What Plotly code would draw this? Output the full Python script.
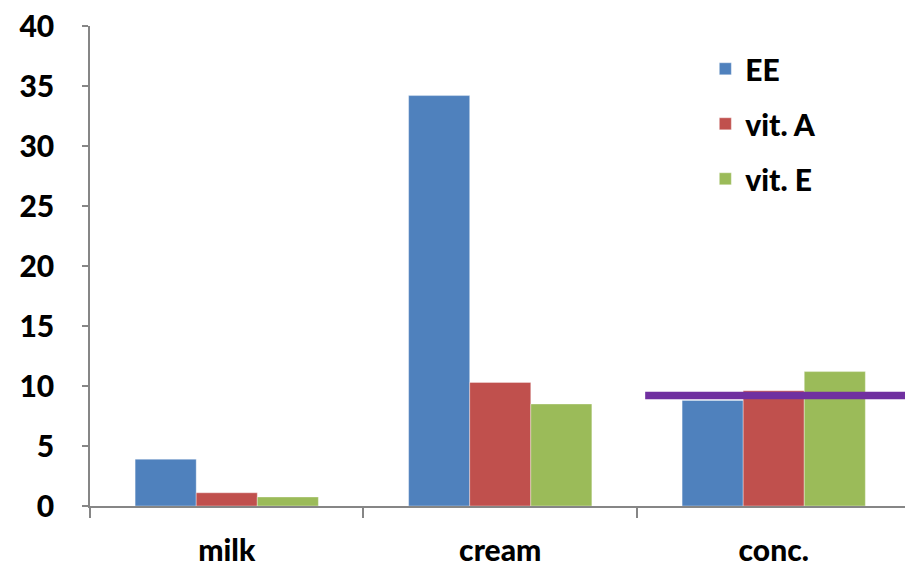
import plotly.graph_objects as go

# Feed samples and their component levels
categories = ["milk", "cream", "conc."]
ee_values = [3.9, 34.2, 8.8]
vit_a_values = [1.1, 10.3, 9.6]
vit_e_values = [0.75, 8.5, 11.2]
series_names = ["EE", "vit. A", "vit. E"]
reference_level = 9.2
y_ticks = [0, 5, 10, 15, 20, 25, 30, 35, 40]

colors = ["#4F81BD", "#C0504D", "#9BBB59"]
font_family = "Lato, 'Open Sans', sans-serif"
label_font = dict(family=font_family, size=30, color="black", weight=900)

fig = go.Figure()
for name, vals, col in zip(series_names, [ee_values, vit_a_values, vit_e_values], colors):
    fig.add_trace(go.Bar(
        x=categories, y=vals, name=name, legendgroup=name,
        marker=dict(color=col, line=dict(color="rgba(255,255,255,0.35)", width=1)),
    ))

# Horizontal reference line across the concentrate group
fig.add_shape(type="line", xref="x", yref="y",
              x0=1.53, x1=2.48, y0=reference_level, y1=reference_level,
              line=dict(color="#7030A0", width=7.5))

fig.update_layout(
    width=905, height=569,
    margin=dict(l=90, r=0, t=26, b=63),
    paper_bgcolor="white", plot_bgcolor="white",
    barmode="group", bargap=0.33, bargroupgap=0,
    font=label_font,
    showlegend=True,
    legend=dict(x=0.755, y=0.965, xanchor="left", yanchor="top",
                font=label_font, tracegroupgap=13, bgcolor="rgba(0,0,0,0)"),
    xaxis=dict(range=[-0.5, 2.48], showline=True, linecolor="#868686", linewidth=1.5,
               ticks="outside", tickson="boundaries", ticklen=10, tickcolor="#868686",
               tickwidth=1.5, showgrid=False, zeroline=False, ticklabelstandoff=17,
               tickfont=label_font),
    yaxis=dict(range=[0, 40], tickvals=y_ticks, showline=True, linecolor="#868686",
               linewidth=1.5, ticks="outside", ticklen=6, tickcolor="#868686", tickwidth=1.5,
               showgrid=False, zeroline=False, ticklabelstandoff=22,
               tickfont=label_font),
)

fig.write_html("out.html")
